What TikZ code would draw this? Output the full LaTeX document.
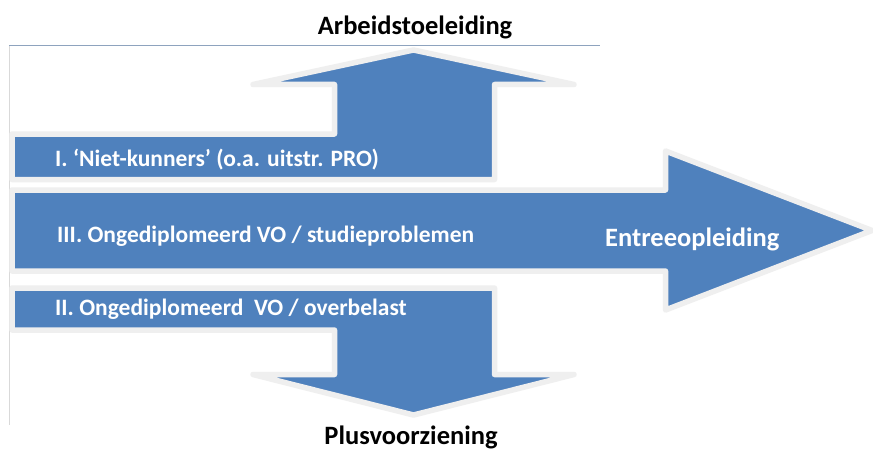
\documentclass[tikz,border=0pt]{standalone}
\usepackage{fontspec}
\setmainfont{Carlito}
\definecolor{fillblue}{HTML}{4F81BD}
\definecolor{rimgray}{HTML}{EFEFEF}
\definecolor{topline}{HTML}{8EA3BE}
\definecolor{sideline}{HTML}{D9D9D9}
\begin{document}
\begin{tikzpicture}[x=1pt,y=-1pt,
  blockshape/.style={fill=fillblue, draw=rimgray, line width=5.5pt, line join=round},
  inlabel/.style={text=white, font=\bfseries\fontsize{23.5}{28}\selectfont, anchor=west, inner sep=0pt},
  outlabel/.style={text=black, font=\bfseries\fontsize{26.5}{31}\selectfont, inner sep=0pt}]
\useasboundingbox (0,0) rectangle (873,452);
\fill[white] (0,0) rectangle (873,452);
\draw[sideline, line width=1pt] (9,46) -- (9,425);
\draw[topline, line width=1pt] (9,46) -- (600,46);
% I + up arrow
\path[blockshape] (12,134) -- (334.5,134) -- (334.5,84.5) -- (253,84.5) -- (413.5,50) -- (574,84.5) -- (494.5,84.5) -- (494.5,179.5) -- (12,179.5) -- cycle;
% III + right arrow
\path[blockshape] (12,190) -- (665.5,190) -- (665.5,151) -- (872,230.5) -- (665.5,310) -- (665.5,271) -- (12,271) -- cycle;
% II + down arrow
\path[blockshape] (12,288) -- (494.5,288) -- (494.5,374.5) -- (574,374.5) -- (413.5,415) -- (253,374.5) -- (334.5,374.5) -- (334.5,330) -- (12,330) -- cycle;
\node[inlabel] (t1) at (55,160) {I. ‘Niet-kunners’ (o.a. uitstr. PRO)};
\node[inlabel] (t3) at (57,236) {III. Ongediplomeerd VO / studieproblemen};
\node[inlabel] (t2) at (55,309) {II. Ongediplomeerd\ \ VO / overbelast};
\node[inlabel, font=\bfseries\fontsize{26.5}{31}\selectfont] (te) at (605,239) {Entreeopleiding};
\node[outlabel] (ta) at (415,27) {Arbeidstoeleiding};
\node[outlabel] (tp) at (411,437.5) {Plusvoorziening};
\end{tikzpicture}
\end{document}
